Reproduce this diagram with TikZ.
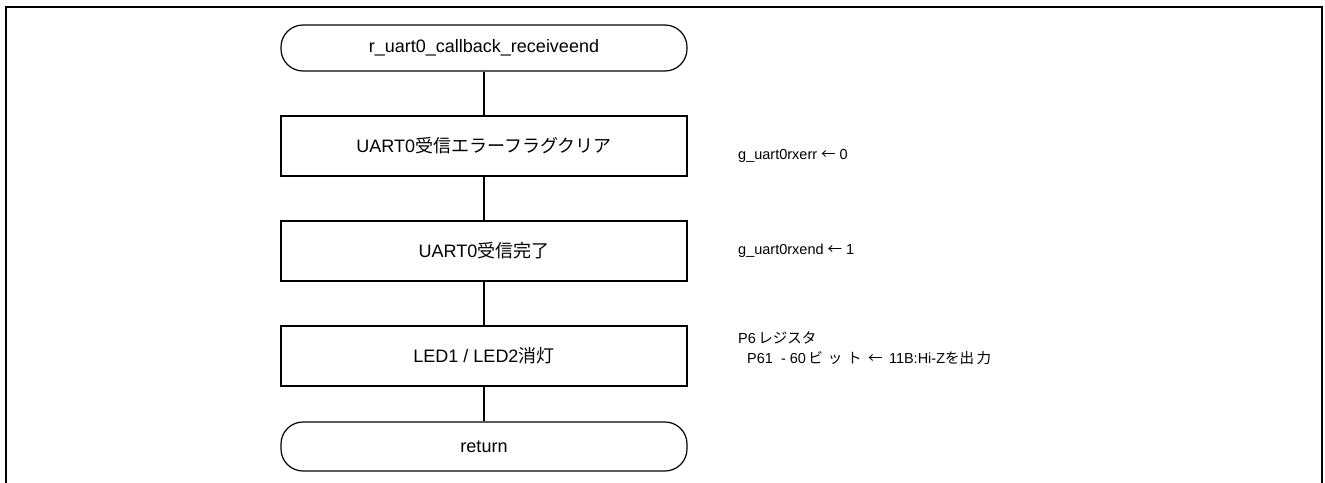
\documentclass[tikz,border=0pt]{standalone}
\usepackage{fontspec}
\setmainfont{Liberation Sans}
\newfontfamily\jp{Noto Sans CJK JP}
\begin{document}
\begin{tikzpicture}[x=1pt,y=-1pt,
  flow/.style={draw=black,line width=1.2pt,minimum width=406pt,inner sep=0pt,align=center,font=\fontsize{18}{20}\selectfont},
  proc/.style={flow,rectangle,minimum height=60pt},
  term/.style={flow,rectangle,rounded corners=22pt,minimum height=46pt},
  note/.style={anchor=west,inner sep=0pt,font=\fontsize{14.5}{16}\selectfont},
  link/.style={draw=black,line width=1.2pt}]
\useasboundingbox (0,0) rectangle (1325,482);
\draw[line width=2.2pt] (6,484) -- (6,7) -- (1322,7) -- (1322,484);
\node[term] (start) at (484,48) {r\_uart0\_callback\_receiveend};
\node[proc] (b1) at (484,146) {UART0{\jp 受信エラーフラグクリア}};
\node[proc] (b2) at (484,251) {UART0{\jp 受信完了}};
\node[proc] (b3) at (484,356) {LED1 / LED2{\jp 消灯}};
\node[term,minimum height=49pt] (ret) at (484,446.5) {return};
\draw[link] (start) -- (b1);
\draw[link] (b1) -- (b2);
\draw[link] (b2) -- (b3);
\draw[link] (b3) -- (ret);
\node[note] (n1) at (738,156) {g\_uart0rxerr {\jp ←} 0};
\node[note] (n2) at (738,251) {g\_uart0rxend {\jp ←} 1};
\node[note] (n3) at (738,338) {P6{\jp\,レジスタ}};
\node[note] (n4) at (747,358) {P61\ \ - 60{\jp\,ビ\,\,ッ\,\,ト}\ \,{\jp ←}\ \,11B:Hi-Z{\jp を出\,力}};
\end{tikzpicture}
\end{document}
